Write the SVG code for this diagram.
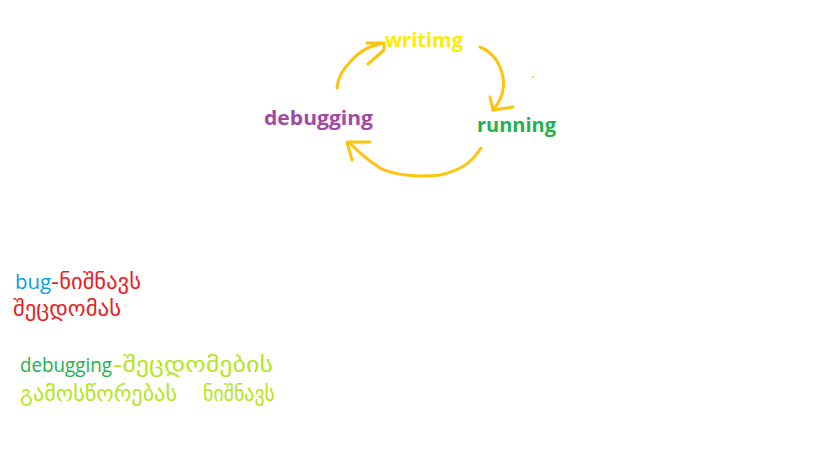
<svg xmlns="http://www.w3.org/2000/svg" width="835" height="469" viewBox="0 0 835 469">
<style>
.lbl{font-family:"Open Sans","DejaVu Sans",sans-serif;font-weight:bold;font-size:20px}
.lat{font-family:"Open Sans","DejaVu Sans",sans-serif;font-size:20px}
.geo{font-family:"DejaVu Sans",sans-serif;font-size:22px}
.geo2{font-family:"DejaVu Sans",sans-serif;font-size:21px}
.arr{fill:none;stroke:#FFC30E;stroke-width:3;stroke-linecap:round;stroke-linejoin:round}
</style>
<rect width="835" height="469" fill="#ffffff"/>
<g id="connectors">
<path class="arr" d="M337,88 C338,78 342,70 350,62 C356,55 362,50 372,46 L380,44"/>
<path class="arr" d="M367,43 L384,43 L384,50 L368,64"/>
<path class="arr" d="M480,47 C492,52 500,62 503,77 C505,90 500,102 493,110"/>
<path class="arr" d="M490,97 L493,110 L513,107"/>
<path class="arr" d="M481,148 C472,162 462,170 440,175 C420,177 395,176 380,168 C368,160 358,152 350,143"/>
<path class="arr" d="M370,142 L347,142 L352,160"/>
<circle cx="533" cy="77" r="1" fill="#FFC30E"/>
</g>
<g id="node-writimg"><text class="lbl" x="385" y="47" fill="#FFEA00" textLength="78" lengthAdjust="spacingAndGlyphs">writimg</text></g>
<g id="node-running"><text class="lbl" x="477" y="132" fill="#22B14C" textLength="79" lengthAdjust="spacingAndGlyphs">running</text></g>
<g id="node-debugging"><text class="lbl" x="264" y="125" fill="#A349A4" textLength="109" lengthAdjust="spacingAndGlyphs">debugging</text></g>
<g id="notes">
<text class="lat" x="15" y="289" fill="#00A2E8" textLength="36" lengthAdjust="spacingAndGlyphs">bug</text>
<text class="geo" x="51" y="289" fill="#ED1C24" textLength="90" lengthAdjust="spacingAndGlyphs">-ნიშნავს</text>
<text class="geo" x="13" y="316" fill="#ED1C24" textLength="108" lengthAdjust="spacingAndGlyphs">შეცდომას</text>
<text class="lat" x="20" y="372" fill="#22B14C" textLength="92" lengthAdjust="spacingAndGlyphs">debugging</text>
<text class="geo2" x="113" y="372" fill="#B5E61D" textLength="160" lengthAdjust="spacingAndGlyphs">-შეცდომების</text>
<text class="geo2" x="20" y="401" fill="#B5E61D" textLength="157" lengthAdjust="spacingAndGlyphs">გამოსწორებას</text>
<text class="geo2" x="203" y="401" fill="#B5E61D" textLength="72" lengthAdjust="spacingAndGlyphs">ნიშნავს</text>
</g>
</svg>
